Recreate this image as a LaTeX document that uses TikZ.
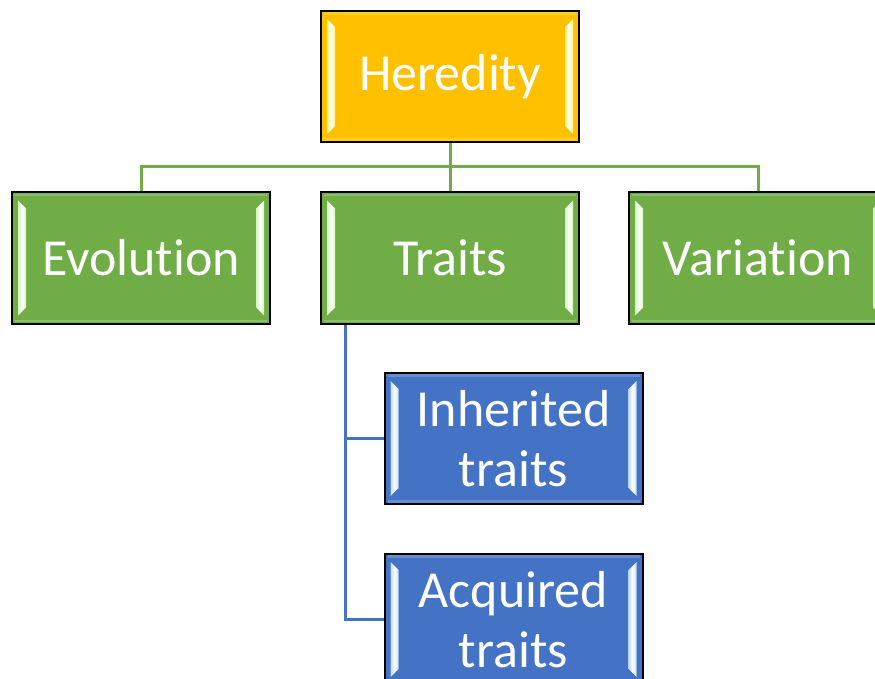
\documentclass[tikz,border=0pt]{standalone}
\usepackage{fontspec}
\setmainfont[Ligatures={NoCommon,NoContextual,NoRare}]{Carlito}
\usetikzlibrary{calc,backgrounds}
\definecolor{herfill}{HTML}{FFC000}
\definecolor{grnfill}{HTML}{70AD47}
\definecolor{blufill}{HTML}{4472C4}
\definecolor{herlight}{HTML}{FFF27A}
\definecolor{grnlight}{HTML}{D4F5BC}
\definecolor{blulight}{HTML}{BFDBF7}
\tikzset{
  card/.style={draw=black, line width=2pt, minimum width=258pt, minimum height=131pt,
    inner sep=0pt, text=white, align=center,
    font=\fontsize{52}{60}\selectfont},
  gline/.style={draw=grnfill, line width=3pt},
  bline/.style={draw=blufill, line width=3pt},
}
\newcommand\bevelbars[3]{%
  \shade[left color=#2, right color=#2, middle color=white]
    ($(#1.north west)+(7,9)$) -- ($(#1.north west)+(15,17)$) --
    ($(#1.south west)+(15,-17)$) -- ($(#1.south west)+(7,-9)$) -- cycle;
  \shade[left color=#2, right color=#2, middle color=white]
    ($(#1.north east)+(-7,9)$) -- ($(#1.north east)+(-15,17)$) --
    ($(#1.south east)+(-15,-17)$) -- ($(#1.south east)+(-7,-9)$) -- cycle;
  \draw[#2!45!#3, line width=2.5pt, opacity=0.6]
    ($(#1.north west)+(4,3.5)$) -- ($(#1.north east)+(-4,3.5)$);
  \draw[#2!45!#3, line width=2.5pt, opacity=0.6]
    ($(#1.south west)+(4,-3.5)$) -- ($(#1.south east)+(-4,-3.5)$);
}
\begin{document}
\begin{tikzpicture}[x=1pt,y=-1pt]
\useasboundingbox (0,0) rectangle (875,679);
\clip (0,0) rectangle (875,679);
\node[card, fill=herfill] (her) at (450,76.5) {Heredity};
\node[card, fill=grnfill] (evo) at (141,258) {Evolution};
\node[card, fill=grnfill] (tra) at (450,258) {Traits};
\node[card, fill=grnfill] (var) at (758,258) {Variation};
\node[card, fill=blufill] (inh) at (513.5,438.5) {Inherited\\traits};
\node[card, fill=blufill] (acq) at (513.5,619.5) {Acquired\\traits};
\bevelbars{her}{herlight}{herfill}
\bevelbars{evo}{grnlight}{grnfill}
\bevelbars{tra}{grnlight}{grnfill}
\bevelbars{var}{grnlight}{grnfill}
\bevelbars{inh}{blulight}{blufill}
\bevelbars{acq}{blulight}{blufill}
\begin{scope}[on background layer]
  \draw[gline] (her.south) -- ++(0,24) coordinate (hj);
  \draw[gline] (evo.north) |- (hj) -| (var.north);
  \draw[gline] (hj) -- (tra.north);
  \coordinate (ts) at ($(tra.south west)+(25,0)$);
  \draw[bline] (ts) |- (inh.west);
  \draw[bline] (ts) |- (acq.west);
\end{scope}
\end{tikzpicture}
\end{document}
